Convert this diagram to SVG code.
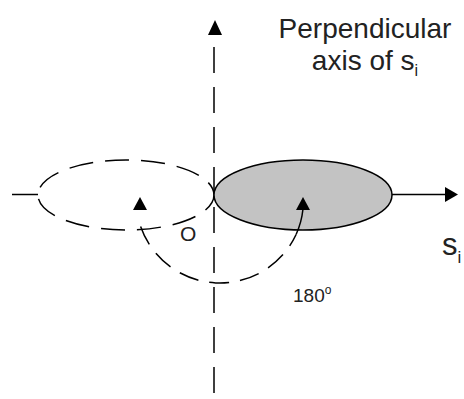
<svg xmlns="http://www.w3.org/2000/svg" width="464" height="399" viewBox="0 0 464 399">
<style>
.ln{fill:none;stroke:#000;stroke-width:1.5}
.dsh{stroke-dasharray:24 12}
.arr{fill:#000;stroke:none}
.t{font-family:"Liberation Sans",Arial,sans-serif;fill:#222}
</style>
<rect width="464" height="399" fill="#fff"/>
<g id="perp-axis">
<line class="ln" x1="214" y1="47" x2="214" y2="399" style="stroke-dasharray:26 14"/>
<polygon class="arr" points="208,35 215,20 222,35"/>
</g>
<g id="si-axis">
<line class="ln" x1="12" y1="194.5" x2="38" y2="194.5"/>
<line class="ln" x1="392" y1="194.5" x2="446" y2="194.5"/>
<polygon class="arr" points="445,187 458,194.5 445,202"/>
</g>
<g id="dashed-ellipse">
<ellipse class="ln dsh" cx="126" cy="195" rx="88" ry="35" stroke-dashoffset="6"/>
<polygon class="arr" points="133,210 140,197 147,210"/>
</g>
<g id="gray-ellipse">
<ellipse cx="303" cy="195" rx="89" ry="35" fill="#c3c3c3" stroke="#000" stroke-width="1.5"/>
<polygon class="arr" points="296,210 303,197 310,210"/>
</g>
<g id="connectors">
<path class="ln" d="M140.6,226.5 A84,84 0 0 0 296.1,234.5" style="stroke-dasharray:20 11"/>
<path class="ln" d="M296.1,234.5 A84,84 0 0 0 303,209"/>
</g>
<g id="labels">
<text class="t" x="365" y="38" font-size="28" text-anchor="middle">Perpendicular</text>
<text class="t" x="365" y="70" font-size="28" text-anchor="middle">axis of s<tspan font-size="16" dy="6">i</tspan></text>
<text class="t" x="180" y="241" font-size="21">O</text>
<text class="t" x="293" y="302" font-size="19">180<tspan font-size="12" dy="-8">o</tspan></text>
<text class="t" x="442" y="255" font-size="31">s<tspan font-size="17" dy="8">i</tspan></text>
</g>
</svg>
